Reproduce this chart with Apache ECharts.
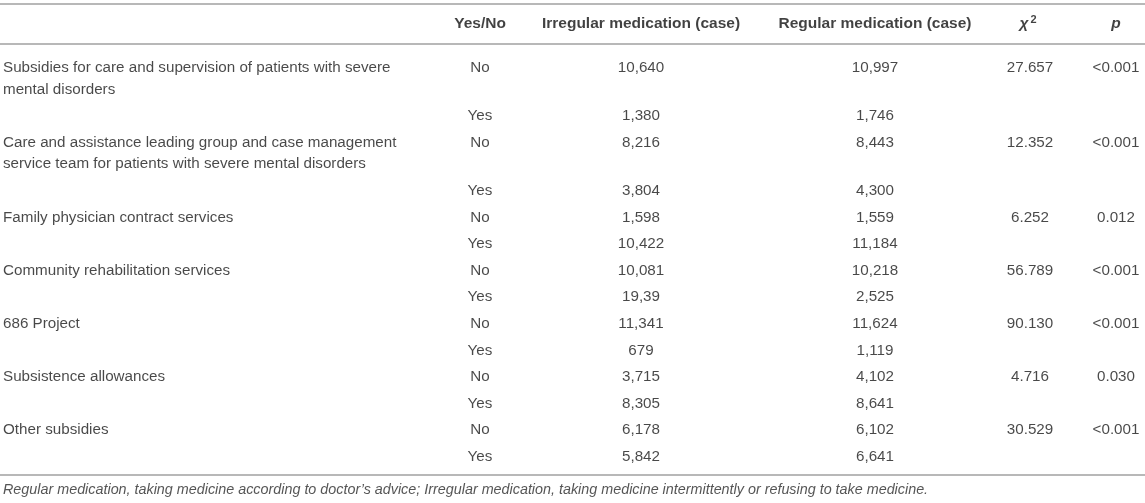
<!DOCTYPE html>
<html>
<head>
    <meta charset="utf-8">
    <title>table</title>
    <script src="https://cdn.jsdelivr.net/npm/echarts@6/dist/echarts.min.js"></script>
    <style>
        html, body { margin: 0; padding: 0; background: #fff; }
        #chart { width: 1145px; height: 503px; }
    </style>
</head>
<body>
<div id="chart"></div>
<script>
    // table content
    var headers = ['', 'Yes/No', 'Irregular medication (case)', 'Regular medication (case)', '{i|χ}{s|2}', '{bi|p}'];
    var factors = [
        'Subsidies for care and supervision of patients with severe\nmental disorders',
        'Care and assistance leading group and case management\nservice team for patients with severe mental disorders',
        'Family physician contract services',
        'Community rehabilitation services',
        '686 Project',
        'Subsistence allowances',
        'Other subsidies'
    ];
    var answers = ['No', 'Yes'];
    var irregular = ['10,640', '1,380', '8,216', '3,804', '1,598', '10,422', '10,081', '19,39', '11,341', '679', '3,715', '8,305', '6,178', '5,842'];
    var regular = ['10,997', '1,746', '8,443', '4,300', '1,559', '11,184', '10,218', '2,525', '11,624', '1,119', '4,102', '8,641', '6,102', '6,641'];
    var chi2 = ['27.657', '12.352', '6.252', '56.789', '90.130', '4.716', '30.529'];
    var pval = ['<0.001', '<0.001', '0.012', '<0.001', '<0.001', '0.030', '<0.001'];
    var note = 'Regular medication, taking medicine according to doctor\u2019s advice; Irregular medication, taking medicine intermittently or refusing to take medicine.';

    // layout: column anchors and row metrics in pixels
    var colX = [3, 480, 641, 875, 1030, 1116];
    var colAlign = ['left', 'center', 'center', 'center', 'center', 'center'];
    var firstRowY = 68;
    var lineH = 21.5;
    var rowPad = 5.1;
    var headerY = 24;
    var rules = [4, 44, 475];
    var noteY = 490;
    var font = 'Liberation Sans, Arial, Helvetica, sans-serif';
    var textColor = '#1a1a1a';
    var ruleColor = '#b8b8b8';

    var cells = [];
    var y = firstRowY;
    factors.forEach(function (f, i) {
        var nLines = f.split('\n').length;
        answers.forEach(function (a, j) {
            var r = i * 2 + j;
            var row = [
                j === 0 ? f : '',
                a,
                irregular[r],
                regular[r],
                j === 0 ? chi2[i] : '',
                j === 0 ? pval[i] : ''
            ];
            row.forEach(function (txt, c) {
                if (txt === '') return;
                cells.push({
                    value: [colX[c], y],
                    label: {
                        formatter: txt,
                        align: colAlign[c],
                        verticalAlign: 'top',
                        offset: [0, -lineH / 2]
                    }
                });
            });
            y += (j === 0 ? nLines : 1) * lineH + rowPad;
        });
    });

    var headerCells = headers.map(function (h, c) {
        if (h === '') return null;
        return {
            value: [colX[c] + (c === 4 ? -2 : 0), headerY],
            label: { formatter: h, align: colAlign[c] }
        };
    }).filter(function (d) { return d; });

    var option = {
        animation: false,
        grid: { left: 0, right: 0, top: 0, bottom: 0 },
        xAxis: { type: 'value', min: 0, max: 1145, show: false },
        yAxis: { type: 'value', min: 0, max: 503, inverse: true, show: false },
        series: [{
            type: 'scatter',
            symbolSize: 0,
            silent: true,
            label: {
                show: true,
                position: 'inside',
                color: textColor,
                fontFamily: font,
                fontSize: 15.2,
                lineHeight: lineH
            },
            data: cells,
            markLine: {
                silent: true,
                symbol: 'none',
                label: { show: false },
                lineStyle: { color: ruleColor, width: 2, type: 'solid' },
                data: rules.map(function (v) { return { yAxis: v }; })
            }
        }, {
            type: 'scatter',
            symbolSize: 0,
            silent: true,
            label: {
                show: true,
                position: 'inside',
                color: '#111',
                fontFamily: font,
                fontSize: 15.5,
                fontWeight: 'bold',
                rich: {
                    i: { fontStyle: 'italic', fontSize: 15.5, color: '#111', fontFamily: font },
                    s: { fontSize: 11, fontWeight: 'bold', color: '#111', verticalAlign: 'top', padding: [0, 0, 9, 2], fontFamily: font },
                    bi: { fontStyle: 'italic', fontWeight: 'bold', fontSize: 15.5, color: '#111', fontFamily: font }
                }
            },
            data: headerCells
        }, {
            type: 'scatter',
            symbolSize: 0,
            silent: true,
            label: {
                show: true,
                position: 'inside',
                align: 'left',
                color: '#2a2a2a',
                fontFamily: font,
                fontSize: 14.35,
                fontStyle: 'italic',
                formatter: note
            },
            data: [[colX[0], noteY]]
        }]
    };

    var myChart = echarts.init(document.getElementById('chart'));
    myChart.setOption(option);
</script>
</body>
</html>
